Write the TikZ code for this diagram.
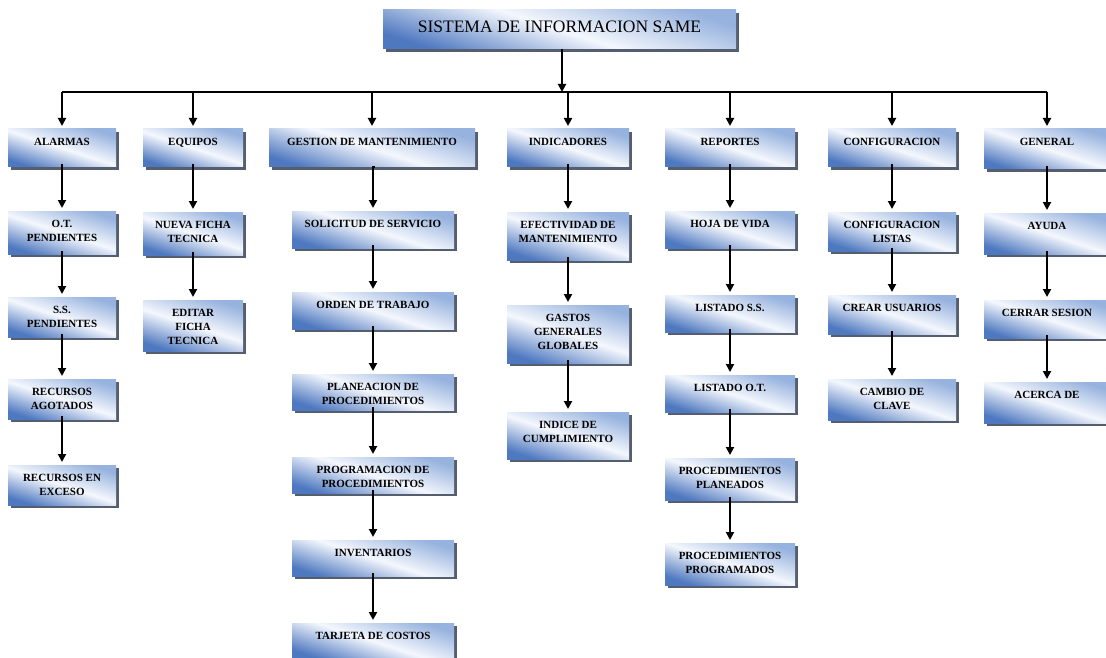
\documentclass[tikz,border=0pt]{standalone}
\usepackage{fontspec}
\setmainfont{Liberation Serif}
\usetikzlibrary{arrows.meta,shadows}
\definecolor{boxdark}{RGB}{78,120,192}
\definecolor{boxmid}{RGB}{244,247,253}
\definecolor{boxtop}{RGB}{150,178,222}
\definecolor{shadowc}{RGB}{84,94,110}
\newcommand\boxfont{\fontsize{11}{13.8}\selectfont\bfseries}
\newcommand\titlefont{\fontsize{17.5}{20}\selectfont}
\tikzset{
  mbox/.style={inner sep=0pt, outer sep=0pt,
    top color=boxtop, bottom color=boxdark, middle color=boxmid, shading angle=-18,
    general shadow={shadow xshift=3pt, shadow yshift=-3pt, fill=shadowc}},
  arr/.style={line width=1.9pt, -{Triangle[length=8pt,width=8pt]}, shorten >=3pt},
  hline/.style={line width=1.3pt},
}
% \bx{name}{x1}{y1}{x2}{y2}{text}
\newcommand\bx[6]{%
  \pgfmathsetmacro\bxw{#4-#2-3}\pgfmathsetmacro\bxh{#5-#3-3}%
  \pgfmathsetmacro\bxcx{(#2+#4-3)/2}\pgfmathsetmacro\bxcy{(#3+#5-3)/2}%
  \node[mbox] (#1) at (\bxcx,\bxcy)
    {\parbox[c][\bxh pt][t]{\bxw pt}{\centering\boxfont\rule{0pt}{16.6pt}#6\par}};}
\begin{document}
\begin{tikzpicture}[x=1pt,y=-1pt]
\useasboundingbox[fill=white] (0,0) rectangle (1106,658);
% title
\pgfmathsetmacro\bxw{739-383-3}\pgfmathsetmacro\bxh{52-10-3}%
\node[mbox] (title) at ({(383+736)/2},{(10+49)/2})
  {\parbox[c][\bxh pt][t]{\bxw pt}{\centering\titlefont\rule{0pt}{22.5pt}SISTEMA DE INFORMACION SAME\par}};
% level 1
\bx{alarmas}{8}{129}{119}{170}{ALARMAS}
\bx{equipos}{143}{129}{246}{170}{EQUIPOS}
\bx{gestion}{269}{129}{478}{170}{GESTION DE MANTENIMIENTO}
\bx{indicadores}{507}{129}{632}{170}{INDICADORES}
\bx{reportes}{665}{129}{798}{170}{REPORTES}
\bx{config}{828}{129}{959}{170}{CONFIGURACION}
\bx{general}{984}{129}{1113}{172}{GENERAL}
% alarmas column
\bx{ot}{8}{211}{119}{257}{O.T.\\PENDIENTES}
\bx{ss}{8}{297}{119}{340}{S.S.\\PENDIENTES}
\bx{agot}{8}{379}{119}{422}{RECURSOS\\AGOTADOS}
\bx{exceso}{8}{465}{119}{508}{RECURSOS EN\\EXCESO}
% equipos column
\bx{nueva}{143}{212}{246}{258}{NUEVA FICHA\\TECNICA}
\bx{editar}{143}{300}{246}{354}{EDITAR\\FICHA\\TECNICA}
% gestion column
\bx{solicitud}{292}{211}{457}{251}{SOLICITUD DE SERVICIO}
\bx{orden}{292}{292}{457}{332}{ORDEN DE TRABAJO}
\bx{planeacion}{292}{374}{457}{413}{PLANEACION DE\\PROCEDIMIENTOS}
\bx{programacion}{292}{457}{457}{496}{PROGRAMACION DE\\PROCEDIMIENTOS}
\bx{inventarios}{292}{540}{457}{579}{INVENTARIOS}
\bx{tarjeta}{292}{623}{457}{662}{TARJETA DE COSTOS}
% indicadores column
\bx{efectividad}{507}{212}{632}{263}{EFECTIVIDAD DE\\MANTENIMIENTO}
\bx{gastos}{507}{305}{632}{366}{GASTOS\\GENERALES\\GLOBALES}
\bx{indice}{507}{412}{632}{462}{INDICE DE\\CUMPLIMIENTO}
% reportes column
\bx{hoja}{665}{211}{798}{251}{HOJA DE VIDA}
\bx{listss}{665}{295}{798}{335}{LISTADO S.S.}
\bx{listot}{665}{375}{798}{415}{LISTADO O.T.}
\bx{planeados}{665}{458}{798}{503}{PROCEDIMIENTOS\\PLANEADOS}
\bx{programados}{665}{543}{798}{588}{PROCEDIMIENTOS\\PROGRAMADOS}
% configuracion column
\bx{listas}{828}{212}{959}{254}{CONFIGURACION\\LISTAS}
\bx{crear}{828}{295}{959}{337}{CREAR USUARIOS}
\bx{cambio}{828}{379}{959}{423}{CAMBIO DE\\CLAVE}
% general column
\bx{ayuda}{984}{213}{1113}{257}{AYUDA}
\bx{cerrar}{984}{300}{1113}{341}{CERRAR SESION}
\bx{acerca}{984}{382}{1113}{426}{ACERCA DE}
% top connectors
\coordinate (hub) at (562,92);
\draw[arr, shorten >=0pt] (title.south -| hub) -- (hub);
\draw[hline] (alarmas.north |- hub) -- (general.north |- hub);
\foreach \n in {alarmas,equipos,gestion,indicadores,reportes,config,general}
  \draw[arr] (\n.north |- hub) -- (\n.north);
% column connectors
\foreach \a/\b in {alarmas/ot, ot/ss, ss/agot, agot/exceso,
                   equipos/nueva, nueva/editar,
                   gestion/solicitud, solicitud/orden, orden/planeacion,
                   planeacion/programacion, programacion/inventarios, inventarios/tarjeta,
                   indicadores/efectividad, efectividad/gastos, gastos/indice,
                   reportes/hoja, hoja/listss, listss/listot, listot/planeados, planeados/programados,
                   config/listas, listas/crear, crear/cambio,
                   general/ayuda, ayuda/cerrar, cerrar/acerca}
  \draw[arr, shorten <=3pt] (\a.south) -- (\a.south -| \b.north) -- (\b.north);
\end{tikzpicture}
\end{document}
